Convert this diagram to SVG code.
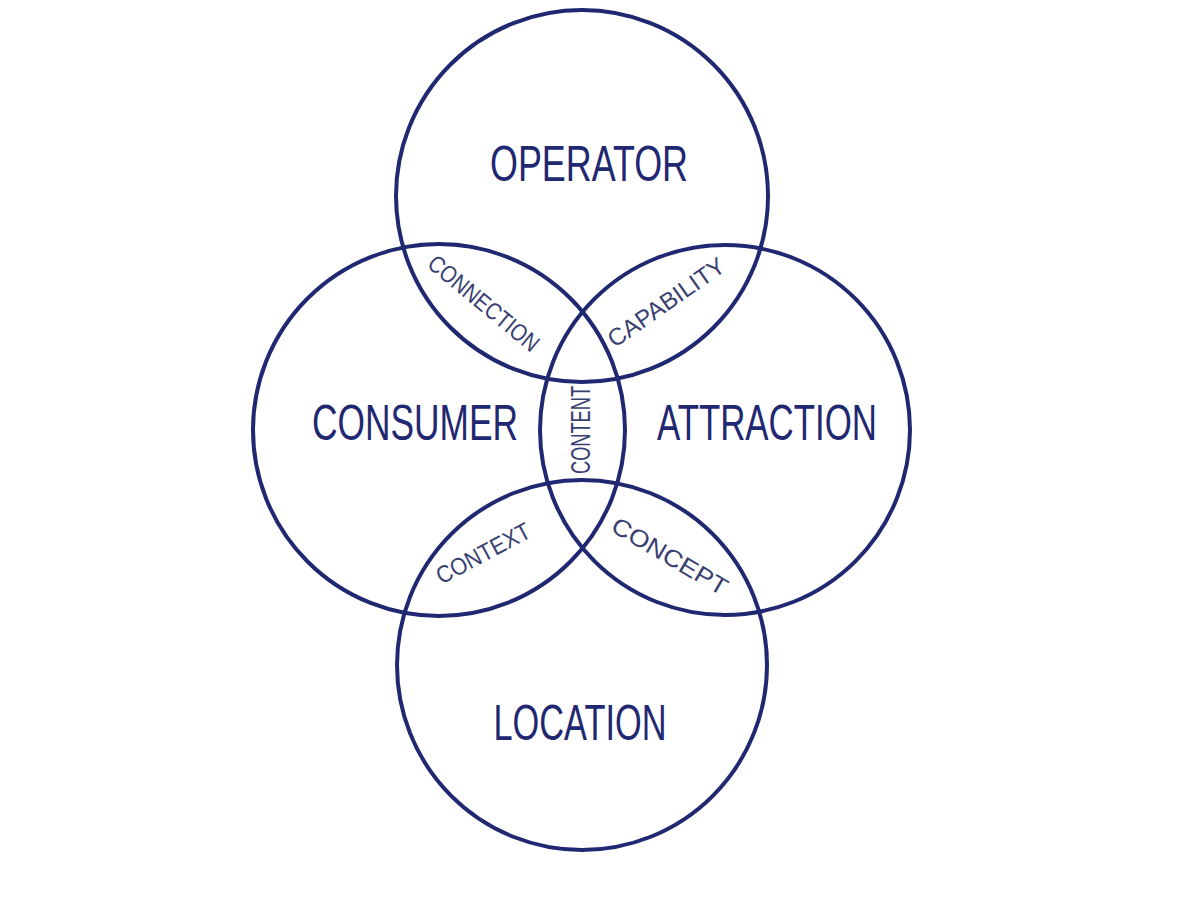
<svg xmlns="http://www.w3.org/2000/svg" width="1200" height="900" viewBox="0 0 1200 900">
<style>
.c{fill:none;stroke:#1f2870;stroke-width:4}
.big{font-family:"Liberation Sans","DejaVu Sans",sans-serif;font-size:50px;fill:#1f2870;text-anchor:middle}
.sm{font-family:"Liberation Sans","DejaVu Sans",sans-serif;font-size:24px;fill:#3a3f72;text-anchor:middle}
</style>
<rect width="1200" height="900" fill="#ffffff"/>
<g id="operator">
<circle class="c" cx="582" cy="196" r="186"/>
<text class="big" x="589" y="181" textLength="198" lengthAdjust="spacingAndGlyphs">OPERATOR</text>
</g>
<g id="consumer">
<circle class="c" cx="439" cy="430" r="186"/>
<text class="big" x="415" y="440" textLength="206" lengthAdjust="spacingAndGlyphs">CONSUMER</text>
</g>
<g id="attraction">
<circle class="c" cx="725" cy="430" r="185"/>
<text class="big" x="767" y="440" textLength="220" lengthAdjust="spacingAndGlyphs">ATTRACTION</text>
</g>
<g id="location">
<circle class="c" cx="582" cy="665" r="185"/>
<text class="big" x="580" y="740" textLength="173" lengthAdjust="spacingAndGlyphs">LOCATION</text>
</g>
<g id="connection">
<text class="sm" transform="translate(484,303) rotate(39.6)" y="8.6" textLength="136" lengthAdjust="spacingAndGlyphs">CONNECTION</text>
</g>
<g id="capability">
<text class="sm" transform="translate(666,302) rotate(-35)" y="8.6" textLength="137" lengthAdjust="spacingAndGlyphs">CAPABILITY</text>
</g>
<g id="content">
<text class="sm" style="font-size:28px" transform="translate(580,430) rotate(-90)" y="10" textLength="88" lengthAdjust="spacingAndGlyphs">CONTENT</text>
</g>
<g id="context">
<text class="sm" transform="translate(483,553) rotate(-28)" y="8.6" textLength="103" lengthAdjust="spacingAndGlyphs">CONTEXT</text>
</g>
<g id="concept">
<text class="sm" transform="translate(670,556) rotate(30.4)" y="8.6" textLength="130" lengthAdjust="spacingAndGlyphs">CONCEPT</text>
</g>
</svg>
